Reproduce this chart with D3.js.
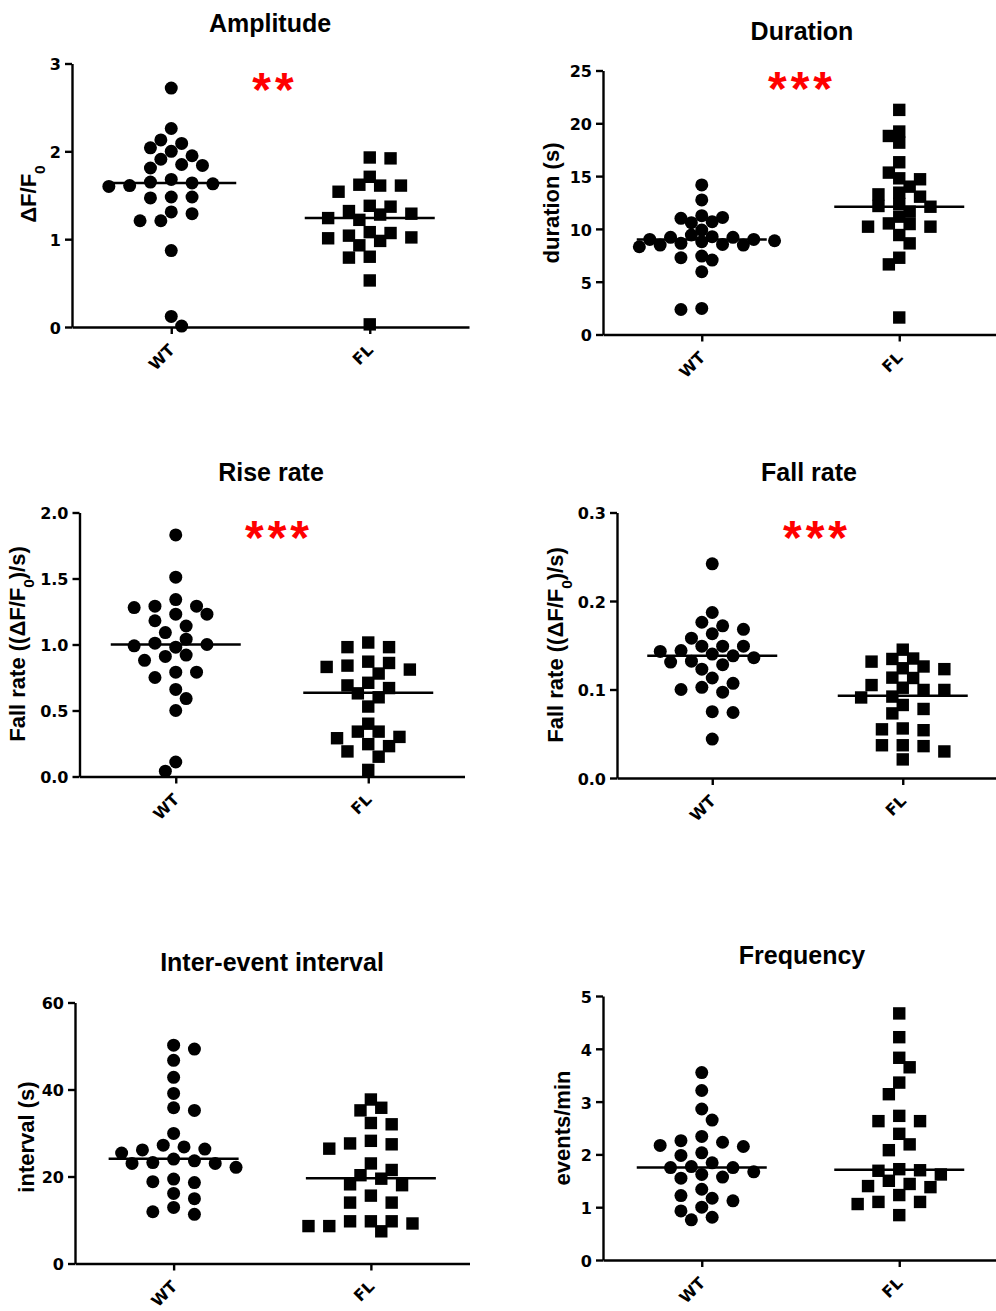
<!DOCTYPE html>
<html>
<head>
<meta charset="utf-8">
<script src="https://cdn.jsdelivr.net/npm/d3@7"></script>
<style>
  body { margin: 0; background: #fff; }
  svg { display: block; }
</style>
</head>
<body>
<div id="chart"></div>
<script>
// groups on the x axis
const groups = ["WT", "FL"];

// panel texts
const titles = ["Amplitude", "Duration", "Rise rate", "Fall rate", "Inter-event interval", "Frequency"];
const yLabels = ["ΔF/F_0", "duration (s)", "Fall rate ((ΔF/F_0)/s)", "Fall rate ((ΔF/F_0)/s)", "interval (s)", "events/min"];
const stars = ["**", "***", "***", "***", "", ""];

// y tick values
const ampTicks = [0, 1, 2, 3];
const durTicks = [0, 5, 10, 15, 20, 25];
const riseTicks = [0, 0.5, 1.0, 1.5, 2.0];
const fallTicks = [0, 0.1, 0.2, 0.3];
const intTicks = [0, 20, 40, 60];
const freqTicks = [0, 1, 2, 3, 4, 5];

// values
const ampWT = [2.72, 2.26, 2.13, 2.09, 2.04, 2.00, 1.95, 1.91, 1.84, 1.85, 1.81, 1.68, 1.63, 1.64, 1.65, 1.60, 1.61, 1.48, 1.47, 1.48, 1.31, 1.29, 1.21, 1.21, 0.87, 0.12, 0.01];
const ampFL = [1.92, 1.93, 1.71, 1.61, 1.62, 1.61, 1.54, 1.37, 1.38, 1.29, 1.32, 1.28, 1.24, 1.22, 1.07, 1.08, 1.04, 1.01, 1.02, 0.93, 0.98, 0.79, 0.80, 0.53, 0.03];
const durWT = [14.16, 12.74, 11.0, 10.59, 11.09, 10.68, 11.25, 9.89, 9.42, 9.2, 8.88, 9.0, 8.47, 8.53, 9.0, 9.26, 9.2, 8.47, 8.79, 8.63, 8.31, 7.27, 7.05, 7.43, 5.94, 2.37, 2.47];
const durFL = [21.27, 19.22, 18.8, 18.17, 16.31, 15.33, 14.7, 14.79, 14.0, 13.05, 13.43, 13.27, 11.63, 12.17, 12.1, 12.36, 11.16, 10.21, 10.46, 10.21, 10.52, 9.42, 8.63, 7.27, 6.64, 1.61];
const riseWT = [1.83, 1.51, 1.34, 1.23, 1.29, 1.28, 1.29, 1.23, 1.18, 1.14, 1.09, 1.04, 0.98, 0.99, 1.0, 1.01, 0.91, 0.92, 0.88, 0.79, 0.79, 0.75, 0.66, 0.59, 0.50, 0.11, 0.04];
const riseFL = [1.015, 0.98, 0.98, 0.87, 0.84, 0.83, 0.86, 0.81, 0.78, 0.71, 0.67, 0.69, 0.63, 0.60, 0.53, 0.40, 0.34, 0.34, 0.29, 0.30, 0.23, 0.245, 0.19, 0.15, 0.05];
const fallWT = [0.242, 0.187, 0.176, 0.168, 0.172, 0.163, 0.158, 0.149, 0.149, 0.149, 0.143, 0.140, 0.144, 0.138, 0.136, 0.132, 0.128, 0.131, 0.123, 0.113, 0.107, 0.1025, 0.100, 0.097, 0.075, 0.074, 0.044];
const fallFL = [0.145, 0.135, 0.1315, 0.126, 0.1345, 0.124, 0.123, 0.113, 0.1134, 0.102, 0.105, 0.0995, 0.0995, 0.091, 0.092, 0.0825, 0.078, 0.073, 0.054, 0.055, 0.056, 0.036, 0.037, 0.037, 0.030, 0.021];
const intWT = [50.2, 49.3, 46.7, 42.8, 39.1, 35.8, 35.2, 29.9, 26.3, 26.8, 27.2, 26.1, 25.4, 23.6, 23.0, 23.0, 23.2, 24.0, 22.1, 19.4, 18.6, 18.8, 16.1, 14.9, 12.9, 11.9, 11.3];
const intFL = [37.7, 35.8, 35.2, 32.3, 32.0, 28.2, 27.4, 27.6, 26.4, 23.0, 20.3, 21.5, 19.5, 18.0, 18.2, 15.6, 14.0, 14.0, 9.7, 9.2, 9.7, 9.7, 8.6, 8.6, 7.4];
const freqWT = [3.55, 3.21, 2.86, 2.65, 2.34, 2.26, 2.23, 2.17, 2.15, 1.98, 2.03, 1.84, 1.67, 1.75, 1.75, 1.77, 1.62, 1.55, 1.57, 1.34, 1.22, 1.12, 1.17, 1.00, 0.93, 0.81, 0.76];
const freqFL = [4.67, 4.22, 3.83, 3.65, 3.36, 3.14, 2.73, 2.63, 2.63, 2.39, 2.19, 2.08, 1.69, 1.70, 1.72, 1.62, 1.50, 1.40, 1.44, 1.38, 1.23, 1.10, 1.10, 1.06, 0.85];

// median lines (WT, FL)
const ampMedians = [1.64, 1.24];
const durMedians = [9.0, 12.1];
const riseMedians = [1.0, 0.634];
const fallMedians = [0.138, 0.093];
const intMedians = [24.1, 19.6];
const freqMedians = [1.75, 1.71];

const panelData = [
  {ticks: ampTicks, fmt: d3.format("d"), wt: ampWT, fl: ampFL, med: ampMedians},
  {ticks: durTicks, fmt: d3.format("d"), wt: durWT, fl: durFL, med: durMedians},
  {ticks: riseTicks, fmt: d3.format(".1f"), wt: riseWT, fl: riseFL, med: riseMedians},
  {ticks: fallTicks, fmt: d3.format(".1f"), wt: fallWT, fl: fallFL, med: fallMedians},
  {ticks: intTicks, fmt: d3.format("d"), wt: intWT, fl: intFL, med: intMedians},
  {ticks: freqTicks, fmt: d3.format("d"), wt: freqWT, fl: freqFL, med: freqMedians}
];

// layout of each panel (axis box, title, y label, stars, swarm spacing)
const layout = [
  {x0: 72, x1: 469, top: 63.5, bottom: 327, tx: 270, ty: 31.5, lx: 28, ly: 194, sx: 273, sy: 78.5, gap: 13},
  {x0: 603, x1: 998, top: 70.5, bottom: 334.5, tx: 802, ty: 39.5, lx: 551, ly: 203, sx: 800, sy: 78, gap: 11},
  {x0: 79.5, x1: 464.5, top: 512.5, bottom: 776.5, tx: 271, ty: 481, lx: 17, ly: 644, sx: 277, sy: 527, gap: 13},
  {x0: 617, x1: 998, top: 512.5, bottom: 778, tx: 809, ty: 481, lx: 555.5, ly: 645, sx: 815, sy: 527, gap: 13},
  {x0: 75, x1: 469.5, top: 1002.5, bottom: 1263.5, tx: 272, ty: 970.5, lx: 26, ly: 1137, sx: 0, sy: 0, gap: 13},
  {x0: 603, x1: 998, top: 996, bottom: 1260, tx: 802, ty: 964, lx: 562, ly: 1128, sx: 0, sy: 0, gap: 13}
];

const w = 996, h = 1311;
const slot = 10.4;      // column pitch of the swarm
const tickFont = "'DejaVu Sans', sans-serif";
const labelFont = "'Liberation Sans', Arial, sans-serif";

const svg = d3.select("#chart").append("svg")
  .attr("width", w)
  .attr("height", h);

svg.append("rect").attr("width", w).attr("height", h).attr("fill", "#fff");

// beeswarm: each point goes to the free column slot nearest the centre,
// on the side that has fewer neighbours
function swarm(values, y, minDist) {
  const pts = values.map((v, i) => ({v: v, i: i, y: y(v), k: 0}));
  const order = pts.slice().sort((a, b) => a.y - b.y || a.i - b.i);
  const placed = [];
  let toggle = -1;
  order.forEach(p => {
    const near = placed.filter(q => Math.abs(q.y - p.y) < minDist * 2);
    const left = near.filter(q => q.k < 0).length;
    const right = near.filter(q => q.k > 0).length;
    let sign;
    if (left < right) sign = -1;
    else if (right < left) sign = 1;
    else { sign = toggle; toggle = -toggle; }
    const cands = [0];
    for (let m = 1; m < 30; m++) cands.push(sign * m, -sign * m);
    for (const k of cands) {
      const ok = placed.every(q => {
        const dx = (q.k - k) * slot, dy = q.y - p.y;
        return dx * dx + dy * dy >= minDist * minDist;
      });
      if (ok) { p.k = k; break; }
    }
    placed.push(p);
  });
  return pts;
}

function addLabel(g, str, size) {
  const parts = str.split("_");
  const t = g.append("text")
    .attr("text-anchor", "middle")
    .style("font-family", labelFont)
    .style("font-weight", "bold")
    .style("font-size", size + "px");
  t.append("tspan").text(parts[0]);
  if (parts.length > 1) {
    t.append("tspan")
      .attr("baseline-shift", "sub")
      .style("font-size", (size * 0.7) + "px")
      .text(parts[1].charAt(0));
    t.append("tspan").text(parts[1].slice(1));
  }
  return t;
}

panelData.forEach((pd, idx) => {
  const L = layout[idx];
  const g = svg.append("g");

  const yScale = d3.scaleLinear()
    .domain([pd.ticks[0], pd.ticks[pd.ticks.length - 1]])
    .range([L.bottom, L.top]);

  const xScale = d3.scalePoint()
    .domain(groups)
    .range([L.x0, L.x1])
    .padding(0.5);

  // title
  g.append("text")
    .attr("x", L.tx)
    .attr("y", L.ty)
    .attr("text-anchor", "middle")
    .style("font-family", labelFont)
    .style("font-weight", "bold")
    .style("font-size", "25px")
    .text(titles[idx]);

  // y axis
  const yAxis = d3.axisLeft(yScale)
    .tickValues(pd.ticks)
    .tickFormat(pd.fmt)
    .tickSize(7)
    .tickPadding(4)
    .tickSizeOuter(0);

  const gy = g.append("g")
    .attr("transform", `translate(${L.x0}, 0)`)
    .call(yAxis);
  gy.selectAll("path, line").attr("stroke", "#000").attr("stroke-width", 2.4);
  gy.selectAll("text")
    .attr("dy", "0.4em")
    .attr("fill", "#000")
    .style("font-family", tickFont)
    .style("font-weight", "bold")
    .style("font-size", "16px");

  // x axis
  const xAxis = d3.axisBottom(xScale)
    .tickSize(7)
    .tickSizeOuter(0);

  const gx = g.append("g")
    .attr("transform", `translate(0, ${L.bottom})`)
    .call(xAxis);
  gx.selectAll("path, line").attr("stroke", "#000").attr("stroke-width", 2.4);
  gx.selectAll("text")
    .attr("x", null)
    .attr("y", null)
    .attr("dy", null)
    .attr("text-anchor", "end")
    .attr("transform", "translate(4, 24) rotate(-45)")
    .attr("fill", "#000")
    .style("font-family", tickFont)
    .style("font-weight", "bold")
    .style("font-size", "16px");

  // y label
  addLabel(g, yLabels[idx], 22)
    .attr("transform", `translate(${L.lx}, ${L.ly}) rotate(-90)`)
    .attr("dy", "0.35em");

  // points
  const wtPts = swarm(pd.wt, yScale, L.gap);
  const flPts = swarm(pd.fl, yScale, L.gap);

  g.append("g").selectAll("circle")
    .data(wtPts)
    .join("circle")
    .attr("cx", d => xScale("WT") + d.k * slot)
    .attr("cy", d => yScale(d.v))
    .attr("r", 6.5)
    .attr("fill", "#000");

  g.append("g").selectAll("rect")
    .data(flPts)
    .join("rect")
    .attr("x", d => xScale("FL") + d.k * slot - 6.2)
    .attr("y", d => yScale(d.v) - 6.2)
    .attr("width", 12.4)
    .attr("height", 12.4)
    .attr("fill", "#000");

  // median lines
  g.append("g").selectAll("line")
    .data(groups)
    .join("line")
    .attr("x1", d => xScale(d) - 65)
    .attr("x2", d => xScale(d) + 65)
    .attr("y1", (d, i) => yScale(pd.med[i]))
    .attr("y2", (d, i) => yScale(pd.med[i]))
    .attr("stroke", "#000")
    .attr("stroke-width", 2.5);

  // significance stars
  if (stars[idx]) {
    g.append("text")
      .attr("x", L.sx + 2)
      .attr("y", L.sy + 27)
      .attr("text-anchor", "middle")
      .style("font-family", labelFont)
      .style("font-weight", "bold")
      .style("font-size", "48px")
      .style("letter-spacing", "4px")
      .attr("fill", "#ff0000")
      .text(stars[idx]);
  }
});
</script>
</body>
</html>
